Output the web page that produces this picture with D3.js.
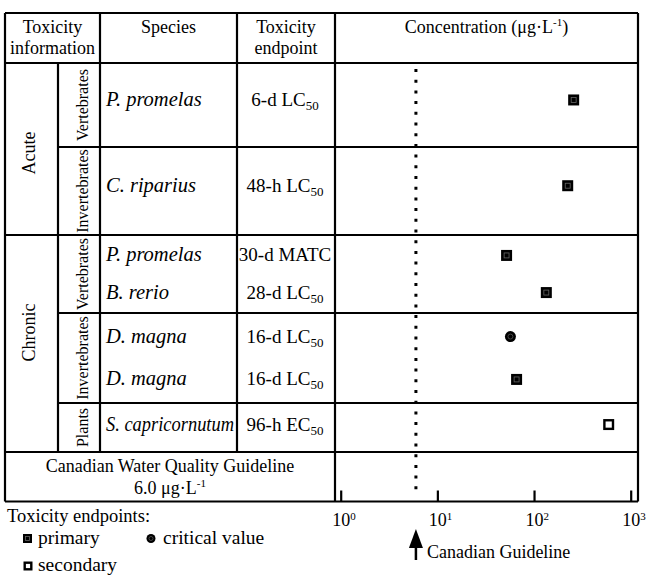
<!DOCTYPE html>
<html>
<head>
<meta charset="utf-8">
<script src="https://cdn.jsdelivr.net/npm/d3@7"></script>
<style>
  body { margin: 0; background: #fff; }
  svg text { font-family: "Liberation Serif", "Times New Roman", serif; fill: #000; }
</style>
</head>
<body>
<svg id="chart" width="647" height="575"></svg>
<script>
// data
const durations = ["Acute", "Acute", "Chronic", "Chronic", "Chronic", "Chronic", "Chronic"];
const groups = ["Vertebrates", "Invertebrates", "Vertebrates", "Vertebrates", "Invertebrates", "Invertebrates", "Plants"];
const species = ["P. promelas", "C. riparius", "P. promelas", "B. rerio", "D. magna", "D. magna", "S. capricornutum"];
const endpoints = ["6-d LC50", "48-h LC50", "30-d MATC", "28-d LC50", "16-d LC50", "16-d LC50", "96-h EC50"];
const concentrations = [257, 223, 52, 134, 57, 66, 592];
const endpointTypes = ["primary", "primary", "primary", "primary", "critical", "primary", "secondary"];
const guideline = 6.0;
const tickValues = [1, 10, 100, 1000];

const svg = d3.select("#chart");

// layout
const tbl = { left: 5, right: 638, top: 13, head: 63, bottom: 501.5 };
const colX = [58, 100, 237, 335];
const blockHeights = [84, 88, 78, 90, 49];
const durationShift = { Acute: 4, Chronic: -11 };

const x = d3.scaleLog().domain([1, 1000]).range([340.7, 630.7]);

// blocks (duration + group)
const blockKeys = [];
durations.forEach((d, i) => {
  const k = d + "|" + groups[i];
  if (!blockKeys.includes(k)) blockKeys.push(k);
});
let yCursor = tbl.head;
const blocks = blockKeys.map((k, bi) => {
  const [dur, grp] = k.split("|");
  const y0 = yCursor;
  yCursor += blockHeights[bi];
  const idx = d3.range(species.length).filter(i => durations[i] === dur && groups[i] === grp);
  return { dur, grp, y0, y1: yCursor, idx };
});
const dataBottom = yCursor;

const rowY = [];
blocks.forEach(b => {
  const s = d3.scalePoint().domain(b.idx).range([b.y0, b.y1])
    .padding(0.55).align(b.idx.length === 1 ? 0.44 : 0.5);
  b.idx.forEach(i => { rowY[i] = s(i); });
});

function line(x1, y1, x2, y2, w = 2.2) {
  svg.append("line").attr("x1", x1).attr("y1", y1).attr("x2", x2).attr("y2", y2)
    .attr("stroke", "#000").attr("stroke-width", w);
}

function fit(sel, maxLen) {
  const n = sel.node();
  if (n.getComputedTextLength() > maxLen) {
    sel.attr("textLength", maxLen).attr("lengthAdjust", "spacingAndGlyphs");
  }
  return sel;
}

// dotted guideline (drawn first, under the grid)
svg.append("line")
  .attr("x1", x(guideline)).attr("x2", x(guideline))
  .attr("y1", 69).attr("y2", 497)
  .attr("stroke", "#000").attr("stroke-width", 3)
  .attr("stroke-dasharray", "3,7.7");

// grid
line(tbl.left, tbl.top, tbl.right, tbl.top);
line(tbl.left, tbl.bottom, tbl.right, tbl.bottom);
line(tbl.left, tbl.top, tbl.left, tbl.bottom);
line(tbl.right, tbl.top, tbl.right, tbl.bottom);
line(tbl.left, tbl.head, tbl.right, tbl.head);
blocks.forEach((b, bi) => {
  const next = blocks[bi + 1];
  const x1 = next && next.dur === b.dur ? colX[0] : tbl.left;
  line(x1, b.y1, tbl.right, b.y1);
});
line(colX[0], tbl.head, colX[0], dataBottom);
line(colX[1], tbl.top, colX[1], dataBottom);
line(colX[2], tbl.top, colX[2], dataBottom);
line(colX[3], tbl.top, colX[3], tbl.bottom);

// header
const head = svg.append("g").attr("font-size", 18);
const headCell = (cx, lines) => lines.forEach((t, i) =>
  head.append("text").attr("x", cx).attr("y", 33 + i * 21).attr("text-anchor", "middle").text(t));
headCell((tbl.left + colX[1]) / 2, ["Toxicity", "information"]);
headCell((colX[1] + colX[2]) / 2, ["Species"]);
headCell((colX[2] + colX[3]) / 2, ["Toxicity", "endpoint"]);
const conc = head.append("text").attr("x", (colX[3] + tbl.right) / 2).attr("y", 33)
  .attr("text-anchor", "middle");
conc.append("tspan").text("Concentration (\u03bcg\u00b7L");
conc.append("tspan").attr("font-size", 11).attr("dy", -7).text("-1");
conc.append("tspan").attr("dy", 7).text(")");

// duration labels
d3.group(blocks, b => b.dur).forEach((bs, dur) => {
  const cy = (bs[0].y0 + bs[bs.length - 1].y1) / 2 + durationShift[dur];
  svg.append("text").attr("font-size", 18).attr("text-anchor", "middle")
    .attr("transform", `translate(35,${cy}) rotate(-90)`).text(dur);
});

// group labels
blocks.forEach(b => {
  const t = svg.append("text").attr("font-size", 16).attr("text-anchor", "middle")
    .attr("transform", `translate(88,${(b.y0 + b.y1) / 2}) rotate(-90)`).text(b.grp);
  fit(t, b.y1 - b.y0 - 4);
});

// species and endpoints
species.forEach((s, i) => {
  const t = svg.append("text").attr("x", colX[1] + 6).attr("y", rowY[i] + 6)
    .attr("font-size", 20.5).attr("font-style", "italic").text(s);
  fit(t, colX[2] - colX[1] - 9);

  const m = endpoints[i].match(/^(.*[A-Z])(\d+)$/);
  const e = svg.append("text").attr("x", (colX[2] + colX[3]) / 2 - 1).attr("y", rowY[i] + 6)
    .attr("font-size", 19).attr("text-anchor", "middle");
  if (m) {
    e.append("tspan").text(m[1]);
    e.append("tspan").attr("font-size", 13).attr("dy", 4).text(m[2]);
  } else {
    e.text(endpoints[i]);
  }
  fit(e, colX[3] - colX[2] - 5);
});

// guideline row
const gy = dataBottom;
svg.append("text").attr("x", (tbl.left + colX[3]) / 2).attr("y", gy + 20)
  .attr("font-size", 18).attr("text-anchor", "middle").text("Canadian Water Quality Guideline");
const gv = svg.append("text").attr("x", (tbl.left + colX[3]) / 2).attr("y", gy + 42)
  .attr("font-size", 18).attr("text-anchor", "middle");
gv.append("tspan").text(d3.format(".1f")(guideline) + " \u03bcg\u00b7L");
gv.append("tspan").attr("font-size", 11).attr("dy", -7).text("-1");

// axis
const axis = svg.append("g").attr("transform", `translate(0,${tbl.bottom})`)
  .call(d3.axisBottom(x).tickValues(tickValues).tickSize(-11).tickFormat(() => ""));
axis.select(".domain").remove();
axis.selectAll(".tick line").attr("stroke", "#000").attr("stroke-width", 2.2);
axis.selectAll(".tick text").remove();
axis.selectAll(".tick").each(function (d) {
  const t = d3.select(this).append("text").attr("x", -9).attr("y", 24.5)
    .attr("text-anchor", "start").attr("font-size", 18).attr("fill", "#000");
  t.append("tspan").text("10");
  t.append("tspan").attr("font-size", 11).attr("dy", -6).text(Math.round(Math.log10(d)));
});

// markers
function drawMarker(g, type, cx, cy, size) {
  const h = size / 2;
  if (type === "critical") {
    g.append("circle").attr("cx", cx).attr("cy", cy).attr("r", h).attr("fill", "#000");
    g.append("circle").attr("cx", cx).attr("cy", cy).attr("r", h * 0.45)
      .attr("fill", "none").attr("stroke", "#555").attr("stroke-width", 0.8);
  } else if (type === "secondary") {
    g.append("rect").attr("x", cx - h + 1.2).attr("y", cy - h + 1.2)
      .attr("width", size - 2.4).attr("height", size - 2.4)
      .attr("fill", "#fff").attr("stroke", "#000").attr("stroke-width", 2.4);
  } else {
    g.append("rect").attr("x", cx - h).attr("y", cy - h).attr("width", size).attr("height", size)
      .attr("fill", "#000");
    g.append("rect").attr("x", cx - h * 0.45).attr("y", cy - h * 0.45)
      .attr("width", size * 0.45).attr("height", size * 0.45)
      .attr("fill", "none").attr("stroke", "#666").attr("stroke-width", 0.8);
  }
}
const markers = svg.append("g");
concentrations.forEach((v, i) => drawMarker(markers, endpointTypes[i], x(v), rowY[i], 11));

// arrow to guideline
const ax = x(guideline);
svg.append("line").attr("x1", ax).attr("x2", ax).attr("y1", 546).attr("y2", 560)
  .attr("stroke", "#000").attr("stroke-width", 2.5);
svg.append("path")
  .attr("d", `M${ax},529 L${ax - 7},548 L${ax + 7},548 Z`).attr("fill", "#000");
svg.append("text").attr("x", ax + 11).attr("y", 558).attr("font-size", 18).text("Canadian Guideline");

// legend
const legend = svg.append("g");
legend.append("text").attr("x", 7).attr("y", 522).attr("font-size", 18.5).text("Toxicity endpoints:");
const legendItems = [
  { type: "primary", label: "primary", mx: 27.5, my: 538.5, tx: 38 },
  { type: "critical", label: "critical value", mx: 151, my: 538.5, tx: 163 },
  { type: "secondary", label: "secondary", mx: 28, my: 566, tx: 38 }
];
legendItems.forEach(d => {
  drawMarker(legend, d.type, d.mx, d.my, 9);
  legend.append("text").attr("x", d.tx).attr("y", d.my + 5).attr("font-size", 19.5).text(d.label);
});
</script>
</body>
</html>
